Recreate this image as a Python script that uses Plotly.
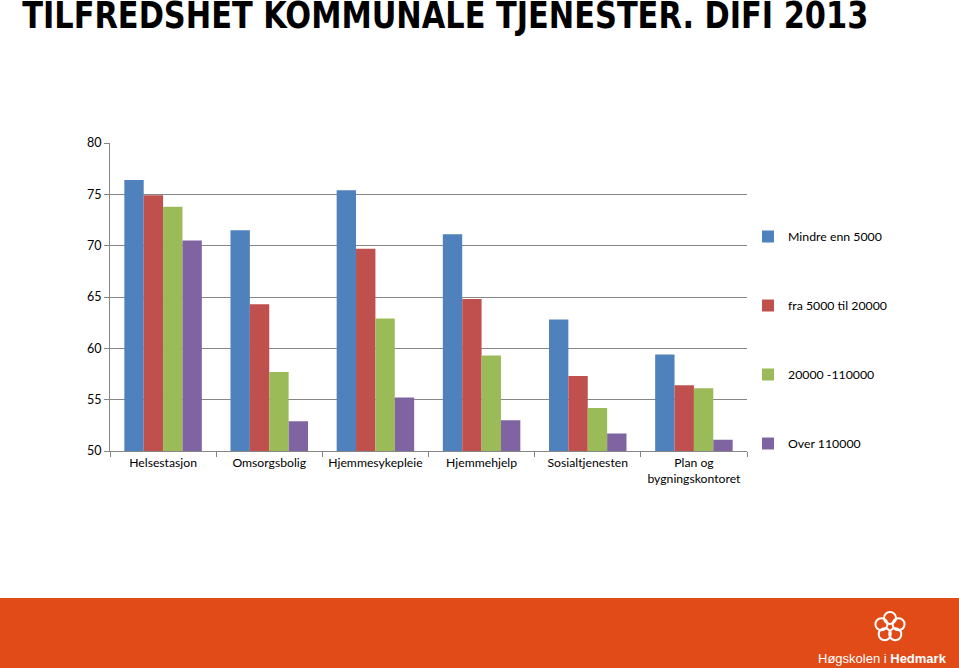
import plotly.graph_objects as go
import math

categories = ["Helsestasjon", "Omsorgsbolig", "Hjemmesykepleie", "Hjemmehjelp",
              "Sosialtjenesten", "Plan og<br>bygningskontoret"]
series_names = ["Mindre enn 5000", "fra 5000 til 20000", "20000 -110000", "Over 110000"]
mindre_5000 = [76.4, 71.5, 75.4, 71.1, 62.8, 59.4]
fra_5000_20000 = [74.9, 64.3, 69.7, 64.8, 57.3, 56.4]
fra_20000_110000 = [73.8, 57.7, 62.9, 59.3, 54.2, 56.1]
over_110000 = [70.5, 52.9, 55.2, 53.0, 51.7, 51.1]
colors = ["#4F81BD", "#C0504D", "#9BBB59", "#8064A2"]
y_ticks = [50, 55, 60, 65, 70, 75, 80]

W, H = 959, 668
L, R, T, B = 110, 212, 143, 217
pw, ph = W - L - R, H - T - B


def px(x):
    return (x - L) / pw


def py(y):
    return (H - B - y) / ph


fig = go.Figure()
for i, (name, vals) in enumerate(zip(series_names,
                                     [mindre_5000, fra_5000_20000, fra_20000_110000, over_110000])):
    fig.add_trace(go.Bar(x=categories, y=vals, name=name, marker_color=colors[i],
                         marker_line_width=0, legendgroup=f"g{i}"))

fig.update_layout(
    width=W, height=H,
    margin=dict(l=L, r=R, t=T, b=B, pad=0),
    paper_bgcolor="white", plot_bgcolor="white",
    barmode="group", bargap=0.27, bargroupgap=0,
    font=dict(family="Lato, Carlito, Calibri, sans-serif", size=12.5, color="#000000"),
    showlegend=True,
    legend=dict(x=px(748), y=py(222), xanchor="left", yanchor="top",
                tracegroupgap=50, itemwidth=30, font=dict(size=12.3),
                bgcolor="rgba(0,0,0,0)"),
    xaxis=dict(showgrid=False, showline=True, linecolor="#868686", linewidth=1,
               ticks="outside", tickson="boundaries", ticklen=5, tickcolor="#868686",
               tickangle=0, tickfont=dict(size=12.2)),
    yaxis=dict(range=[50, 80], tickvals=y_ticks, showgrid=True, gridcolor="#868686",
               gridwidth=1, showline=True, linecolor="#868686", linewidth=1,
               ticks="outside", ticklen=5, tickcolor="#868686", zeroline=False,
               tickfont=dict(size=12.5)),
)

# Title (centred so that condensing it keeps it over the reference span)
fig.add_annotation(text="<b>TILFREDSHET KOMMUNALE TJENESTER. DIFI 2013</b>",
                   xref="paper", yref="paper",
                   x=px(445), y=py(15),
                   xanchor="center", yanchor="middle", showarrow=False,
                   font=dict(family="DejaVu Sans Condensed, DejaVu Sans, sans-serif",
                             size=37, color="black"))

# Footer band
fig.add_shape(type="rect", xref="paper", yref="paper",
              x0=px(0), x1=px(W), y0=py(H), y1=py(598),
              fillcolor="#E04B18", line_width=0, layer="above")

# Logo symbol approximation
cx, cy = 890, 627
for k in range(5):
    a = math.pi / 2 + k * 2 * math.pi / 5
    x = cx + 9 * math.cos(a)
    y = cy - 9 * math.sin(a)
    fig.add_shape(type="circle", xref="paper", yref="paper",
                  x0=px(x - 6), x1=px(x + 6), y0=py(y + 6), y1=py(y - 6),
                  line=dict(color="white", width=2), fillcolor="rgba(0,0,0,0)", layer="above")

fig.add_annotation(text="Høgskolen i <b>Hedmark</b>", xref="paper", yref="paper",
                   x=px(949), y=py(658), xanchor="right", yanchor="middle", showarrow=False,
                   font=dict(family="Liberation Sans, Arial", size=13, color="white"))

post = """
document.body.style.margin='0';document.body.style.padding='0';
document.querySelectorAll('.annotation-text').forEach(function(t){
  if (t.textContent.indexOf('TILFREDSHET') === 0) {
    t.setAttribute('textLength', '846');
    t.setAttribute('lengthAdjust', 'spacingAndGlyphs');
  }
});
"""

fig.write_html("out.html", config={"displayModeBar": False}, post_script=post)
